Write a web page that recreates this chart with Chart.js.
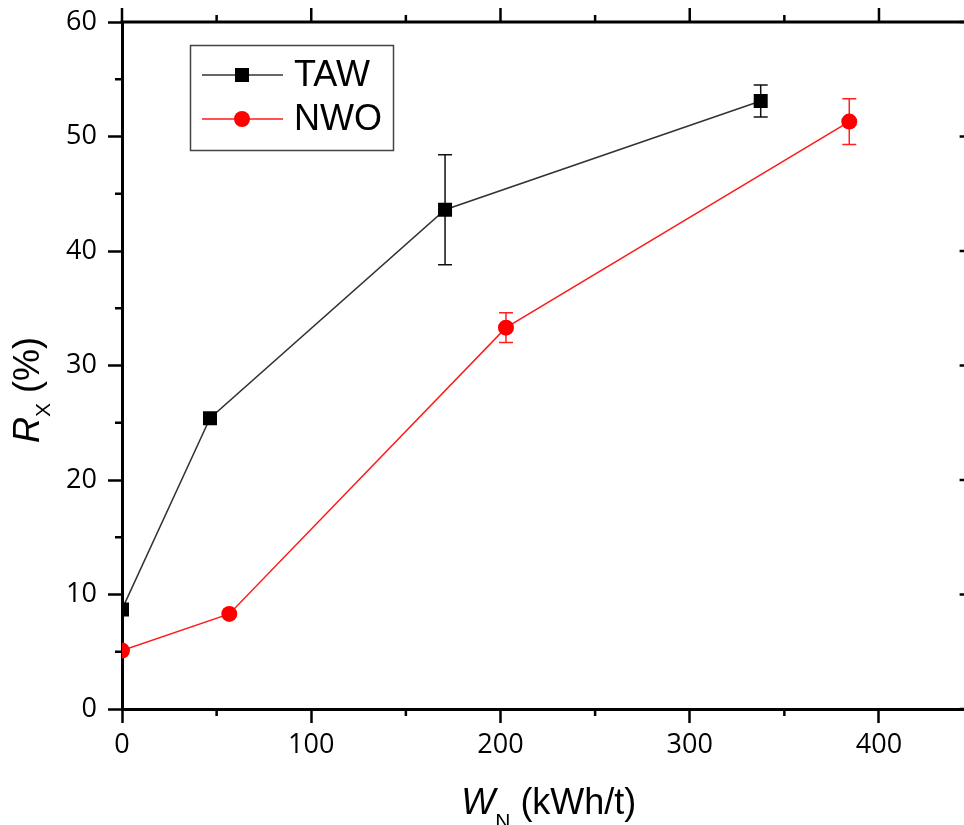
<!DOCTYPE html>
<html>
<head>
<meta charset="utf-8">
<script src="https://cdn.jsdelivr.net/npm/chart.js@4/dist/chart.umd.min.js"></script>
<style>
  html, body { margin: 0; padding: 0; background: #fff; overflow: hidden; }
  #wrap { position: relative; width: 1000px; height: 825px; }
</style>
</head>
<body>
<div id="wrap"><canvas id="c" width="1000" height="825"></canvas></div>
<script>
// Specific energy input W_N (kWh/t) and recovery R_X (%) with error half-widths
const tawEnergy   = [0, 46.5, 170.7, 337.5];
const tawRecovery = [8.7, 25.4, 43.6, 53.1];
const tawError    = [0, 0, 4.8, 1.4];

const nwoEnergy   = [0, 56.7, 202.9, 384.3];
const nwoRecovery = [5.1, 8.3, 33.3, 51.3];
const nwoError    = [0, 0, 1.3, 2.0];

const seriesNames = ['TAW', 'NWO'];

// Axis ranges and tick positions
const xRange = [0, 450];
const yRange = [0, 60];
const xMajor = [0, 100, 200, 300, 400];
const xMinor = [50, 150, 250, 350];
const yMajor = [0, 10, 20, 30, 40, 50, 60];
const yMinor = [5, 15, 25, 35, 45, 55];

const SANS = '"Liberation Sans", Arial, sans-serif';
const TICK_FONT = '"Open Sans", "Liberation Sans", sans-serif';

function toPoints(xs, ys) { return xs.map((x, i) => ({ x: x, y: ys[i] })); }

// Vertical error bars with caps, drawn beneath the markers
const errorBars = {
  id: 'errorBars',
  beforeDatasetsDraw(chart) {
    const ctx = chart.ctx, xs = chart.scales.x, ys = chart.scales.y;
    chart.data.datasets.forEach(ds => {
      ctx.save();
      ctx.strokeStyle = ds.errorColor;
      ctx.lineWidth = 1.5;
      ds.data.forEach((p, i) => {
        const e = ds.errors[i];
        if (!e) return;
        const px = xs.getPixelForValue(p.x);
        const top = ys.getPixelForValue(p.y + e);
        const bot = ys.getPixelForValue(p.y - e);
        ctx.beginPath();
        ctx.moveTo(px, top); ctx.lineTo(px, bot);
        ctx.moveTo(px - 7, top); ctx.lineTo(px + 7, top);
        ctx.moveTo(px - 7, bot); ctx.lineTo(px + 7, bot);
        ctx.stroke();
      });
      ctx.restore();
    });
  }
};

// Box frame, minor ticks, legend and axis titles
const frame = {
  id: 'frame',
  afterDraw(chart) {
    const ctx = chart.ctx, xs = chart.scales.x, ys = chart.scales.y;
    const a = chart.chartArea;
    ctx.save();
    ctx.strokeStyle = '#000';
    // top and right axis lines
    ctx.lineWidth = 3;
    ctx.beginPath();
    ctx.moveTo(a.left - 1.5, a.top); ctx.lineTo(a.right + 1.5, a.top);
    ctx.moveTo(a.right, a.top); ctx.lineTo(a.right, a.bottom);
    ctx.stroke();
    ctx.lineWidth = 2.5;
    ctx.beginPath();
    // top axis: outward ticks
    xMajor.forEach(v => { const p = xs.getPixelForValue(v); ctx.moveTo(p, a.top); ctx.lineTo(p, a.top - 14); });
    xMinor.forEach(v => { const p = xs.getPixelForValue(v); ctx.moveTo(p, a.top); ctx.lineTo(p, a.top - 7); });
    // bottom axis minor ticks
    xMinor.forEach(v => { const p = xs.getPixelForValue(v); ctx.moveTo(p, a.bottom); ctx.lineTo(p, a.bottom + 7); });
    // left axis minor ticks
    yMinor.forEach(v => { const p = ys.getPixelForValue(v); ctx.moveTo(a.left, p); ctx.lineTo(a.left - 7, p); });
    // right axis: inward ticks
    yMajor.forEach(v => { const p = ys.getPixelForValue(v); ctx.moveTo(a.right, p); ctx.lineTo(a.right - 14, p); });
    yMinor.forEach(v => { const p = ys.getPixelForValue(v); ctx.moveTo(a.right, p); ctx.lineTo(a.right - 7, p); });
    ctx.stroke();

    // legend
    ctx.lineWidth = 1.5;
    ctx.strokeStyle = '#444';
    ctx.strokeRect(190.5, 45.5, 203, 105);
    const rows = [75, 119];
    chart.data.datasets.forEach((ds, i) => {
      const y = rows[i];
      ctx.strokeStyle = ds.borderColor;
      ctx.lineWidth = 1.5;
      ctx.beginPath(); ctx.moveTo(202, y); ctx.lineTo(283, y); ctx.stroke();
      ctx.fillStyle = ds.pointBackgroundColor;
      if (ds.pointStyle === 'rect') {
        ctx.fillRect(242 - 7, y - 7, 14, 14);
      } else {
        ctx.beginPath(); ctx.arc(242, y, 8, 0, Math.PI * 2); ctx.fill();
      }
      ctx.fillStyle = '#000';
      ctx.font = '36px ' + SANS;
      ctx.textBaseline = 'middle';
      ctx.textAlign = 'left';
      ctx.fillText(ds.label, 294, y + 1);
    });

    // axis titles with italic symbols and subscripts
    function richText(parts) {
      let w = 0;
      parts.forEach(p => { ctx.font = p.font; p.w = ctx.measureText(p.t).width; w += p.w; });
      return w;
    }
    function drawRich(parts, x0, base) {
      let x = x0;
      ctx.textBaseline = 'alphabetic';
      ctx.textAlign = 'left';
      parts.forEach(p => { ctx.font = p.font; ctx.fillText(p.t, x, base + (p.dy || 0)); x += p.w; });
    }
    ctx.fillStyle = '#000';
    const xTitle = [
      { t: 'W', font: 'italic 36px ' + SANS },
      { t: 'N', font: '21px ' + SANS, dy: 14 },
      { t: ' (kWh/t)', font: '36px ' + SANS }
    ];
    const xw = richText(xTitle);
    drawRich(xTitle, (a.left + a.right) / 2 - xw / 2 + 1, 814);

    const yTitle = [
      { t: 'R', font: 'italic 36px ' + SANS },
      { t: 'X', font: '21px ' + SANS, dy: 11 },
      { t: ' (%)', font: '36px ' + SANS }
    ];
    const yw = richText(yTitle);
    ctx.translate(39, 390);
    ctx.rotate(-Math.PI / 2);
    drawRich(yTitle, -yw / 2, 0);
    ctx.restore();
  }
};

new Chart(document.getElementById('c'), {
  type: 'scatter',
  data: {
    datasets: [
      {
        label: seriesNames[0],
        data: toPoints(tawEnergy, tawRecovery),
        errors: tawError,
        errorColor: '#111',
        showLine: true,
        borderColor: '#333',
        borderWidth: 1.5,
        pointStyle: 'rect',
        pointRadius: 9.9,
        pointHoverRadius: 9.9,
        pointBorderWidth: 0,
        pointBackgroundColor: '#000',
        clip: 0
      },
      {
        label: seriesNames[1],
        data: toPoints(nwoEnergy, nwoRecovery),
        errors: nwoError,
        errorColor: '#ff2020',
        showLine: true,
        borderColor: '#ff1a1a',
        borderWidth: 1.5,
        pointStyle: 'circle',
        pointRadius: 8,
        pointHoverRadius: 8,
        pointBorderWidth: 0,
        pointBackgroundColor: '#ff0000',
        clip: 0
      }
    ]
  },
  options: {
    responsive: false,
    devicePixelRatio: 1,
    animation: false,
    events: [],
    layout: { padding: { top: 22, right: 26.4, left: 0, bottom: 0 } },
    plugins: { legend: { display: false }, tooltip: { enabled: false } },
    scales: {
      x: {
        type: 'linear',
        position: 'bottom',
        min: xRange[0], max: xRange[1],
        afterFit: s => { s.height = 116; s.paddingLeft = 0; s.paddingRight = 0; },
        afterBuildTicks: s => { s.ticks = xMajor.map(v => ({ value: v })); },
        ticks: { font: { family: TICK_FONT, size: 27 }, color: '#000', padding: 6 },
        grid: { drawOnChartArea: false, drawTicks: true, tickLength: 14, tickWidth: 2.5, color: '#000', tickColor: '#000' },
        border: { display: true, color: '#000', width: 3 }
      },
      y: {
        type: 'linear',
        position: 'left',
        min: yRange[0], max: yRange[1],
        afterFit: s => { s.width = 122; s.paddingTop = 0; s.paddingBottom = 0; },
        afterBuildTicks: s => { s.ticks = yMajor.map(v => ({ value: v })); },
        ticks: { font: { family: TICK_FONT, size: 27 }, color: '#000', padding: 11 },
        grid: { drawOnChartArea: false, drawTicks: true, tickLength: 14, tickWidth: 2.5, color: '#000', tickColor: '#000' },
        border: { display: true, color: '#000', width: 3 }
      }
    }
  },
  plugins: [errorBars, frame]
});
</script>
</body>
</html>
